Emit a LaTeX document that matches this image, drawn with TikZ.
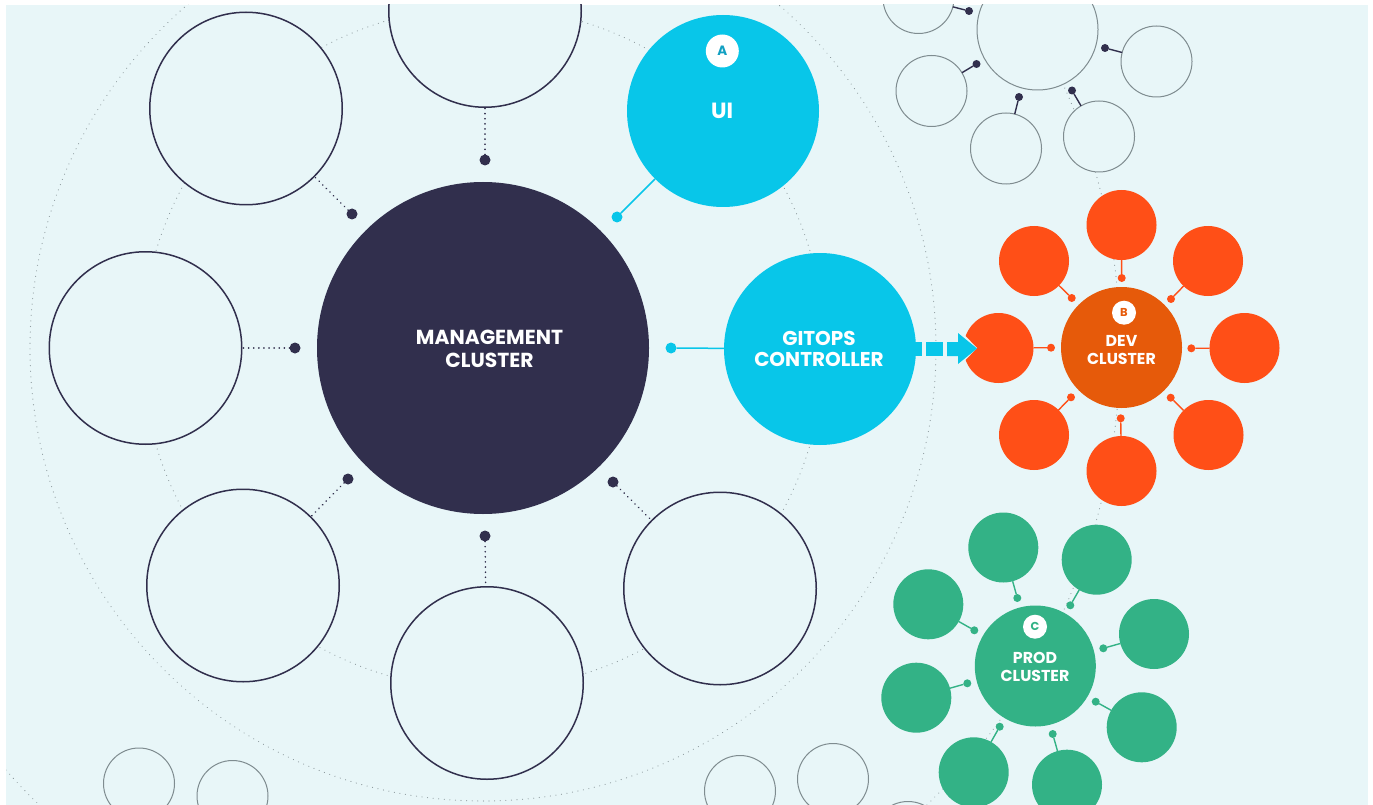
\documentclass[tikz,border=0pt]{standalone}
\usepackage{fontspec}
\setmainfont{Poppins}
\definecolor{bgc}{HTML}{E8F6F8}
\definecolor{navy}{HTML}{312F4D}
\definecolor{cyanc}{HTML}{08C6E9}
\definecolor{devc}{HTML}{E65A0A}
\definecolor{reds}{HTML}{FF4F17}
\definecolor{greenc}{HTML}{33B286}
\definecolor{grayl}{HTML}{7F8C90}
\definecolor{dotg}{HTML}{8F9CA0}
\tikzset{
  disc/.style={circle,inner sep=0pt,outer sep=0pt,align=center,text=white,font=\bfseries},
  bigring/.style={disc,draw=navy,fill=bgc,line width=1.5pt,minimum size=192.5pt},
  smallring/.style={disc,draw=grayl,fill=bgc,line width=1pt,minimum size=71pt},
  medring/.style={disc,draw=grayl,fill=bgc,line width=1pt,minimum size=121pt},
  cyandisc/.style={disc,fill=cyanc,minimum size=192pt},
  reddisc/.style={disc,fill=reds,minimum size=70pt},
  greendisc/.style={disc,fill=greenc,minimum size=70pt},
  bigdot/.style={disc,fill=navy,minimum size=11pt},
  cyandot/.style={disc,fill=cyanc,minimum size=11pt},
  navysmall/.style={disc,fill=navy,minimum size=8pt},
  reddot/.style={disc,fill=reds,minimum size=8pt},
  greendot/.style={disc,fill=greenc,minimum size=8pt},
  badge/.style={disc,fill=white,minimum size=24pt},
  orbit/.style={draw=dotg,line width=1.1pt,line cap=round,dash pattern=on 0.1pt off 5.5pt},
  dotlink/.style={draw=navy,line width=1.7pt,line cap=round,dash pattern=on 0.1pt off 5pt},
  navylink/.style={draw=navy,line width=1.4pt},
  cyanlink/.style={draw=cyanc,line width=1.5pt},
  redlink/.style={draw=reds,line width=1.4pt},
  greenlink/.style={draw=greenc,line width=1.4pt},
}
\begin{document}
\begin{tikzpicture}[x=1pt,y=-1pt]
\useasboundingbox (0,0) rectangle (1373,805);
\fill[white] (0,0) rectangle (1373,805);
\begin{scope}
\clip (6,5) rectangle (1368,805);
\fill[bgc] (6,5) rectangle (1368,805);
\coordinate (hub) at (483,348);
\draw[orbit] (hub) circle[radius=341];
\draw[orbit] (hub) circle[radius=453];
\draw[orbit] (hub) circle[radius=637];
% management ring
\node[bigring] (r1) at (485,11) {};
\node[bigring] (r2) at (246,108.5) {};
\node[bigring] (r3) at (145.5,348) {};
\node[bigring] (r4) at (243,585.5) {};
\node[bigring] (r5) at (487,683) {};
\node[bigring] (r6) at (720,588.5) {};
\node[disc,fill=navy,minimum size=332pt] (mgmt) at (483,348) {};
\node[disc,font=\bfseries\fontsize{20.3}{23}\selectfont] (mgmtlabel) at (489.5,348.5) {MANAGEMENT\\CLUSTER};
\node[cyandisc] (ui) at (723,111) {};
\node[disc,font=\bfseries\fontsize{22}{22}\selectfont] (uilabel) at (722,110.5) {UI};
\node[badge,minimum size=33pt,text=cyanc!75!navy,font=\bfseries\fontsize{13.5}{13.5}\selectfont] (ba) at (722.3,51) {A};
\node[cyandisc] (git) at (820,349) {};
\node[disc,font=\bfseries\fontsize{20}{21}\selectfont] (gitlabel) at (819,348.5) {GITOPS\\CONTROLLER};
\node[bigdot] (d1) at (485,160) {};
\node[bigdot] (d2) at (352,214) {};
\node[bigdot] (d3) at (295,348) {};
\node[bigdot] (d4) at (348,479) {};
\node[bigdot] (d5) at (485,536) {};
\node[bigdot] (d6) at (613,482) {};
\node[cyandot] (dui) at (617,217) {};
\node[cyandot] (dgit) at (671,348) {};
\draw[dotlink] (d1) -- (r1);
\draw[dotlink] (d2) -- (r2);
\draw[dotlink] (d3) -- (r3);
\draw[dotlink] (d4) -- (r4);
\draw[dotlink] (d5) -- (r5);
\draw[dotlink] (d6) -- (r6);
\draw[cyanlink] (dui) -- (ui);
\draw[cyanlink] (dgit) -- (git);
% upper right cluster
\node[medring] (m0) at (1037.5,29.5) {};
\node[smallring] (m1) at (918.5,-2) {};
\node[smallring] (m2) at (931.5,91) {};
\node[smallring] (m3) at (1006,148.5) {};
\node[smallring] (m4) at (1099,136.5) {};
\node[smallring] (m5) at (1156.5,61.5) {};
\node[navysmall] (n1) at (969,11) {};
\node[navysmall] (n2) at (976.5,64) {};
\node[navysmall] (n3) at (1019,97) {};
\node[navysmall] (n4) at (1072,90.5) {};
\node[navysmall] (n5) at (1105,48) {};
\draw[navylink] (n1) -- (m1);
\draw[navylink] (n2) -- (m2);
\draw[navylink] (n3) -- (m3);
\draw[navylink] (n4) -- (m4);
\draw[navylink] (n5) -- (m5);
% dev cluster
\node[disc,fill=devc,minimum size=121pt] (dev) at (1121.5,347.5) {};
\node[disc,font=\bfseries\fontsize{15.8}{18}\selectfont] (devlabel) at (1121.5,350) {DEV\\CLUSTER};
\node[badge,text=devc,font=\bfseries\fontsize{11.5}{11.5}\selectfont] (bb) at (1124,312.7) {B};
\node[reddisc] (s1) at (1121.5,225) {};
\node[reddisc] (s2) at (1208,261) {};
\node[reddisc] (s3) at (1244.5,348) {};
\node[reddisc] (s4) at (1208.5,435) {};
\node[reddisc] (s5) at (1121.5,471) {};
\node[reddisc] (s6) at (1034,435) {};
\node[reddisc] (s7) at (998.5,348) {};
\node[reddisc] (s8) at (1034,261) {};
\node[reddot] (t1) at (1121.7,278) {};
\node[reddot] (t2) at (1171,299) {};
\node[reddot] (t3) at (1191.3,348.3) {};
\node[reddot] (t4) at (1170.7,397.7) {};
\node[reddot] (t5) at (1120.7,418.3) {};
\node[reddot] (t6) at (1071,397.3) {};
\node[reddot] (t7) at (1051,347.7) {};
\node[reddot] (t8) at (1071.7,298) {};
\foreach \i in {1,...,8} {\draw[redlink] (t\i) -- (s\i);}
% arrow from the controller into the dev cluster
\fill[bgc] (977,348) -- (950,320) -- (950,376) -- cycle;
\fill[cyanc] (912,342) rectangle (922,356);
\fill[cyanc] (926,342) rectangle (943,356);
\fill[cyanc] (947,342) -- (958,342) -- (958,333) -- (977,348.5) -- (958,364) -- (958,356) -- (947,356) -- cycle;
% prod cluster
\node[disc,fill=greenc,minimum size=121pt] (prod) at (1035.3,666) {};
\node[disc,font=\bfseries\fontsize{15.8}{18}\selectfont] (prodlabel) at (1035,667) {PROD\\CLUSTER};
\node[badge,text=greenc,font=\bfseries\fontsize{11.5}{11.5}\selectfont] (bc) at (1035,626.7) {C};
\node[greendisc] (g1) at (1003.3,547.5) {};
\node[greendisc] (g2) at (1096.7,559.7) {};
\node[greendisc] (g3) at (1154,634) {};
\node[greendisc] (g4) at (1141.7,727.3) {};
\node[greendisc] (g5) at (1067,784.7) {};
\node[greendisc] (g6) at (973.7,772.3) {};
\node[greendisc] (g7) at (916.3,697.7) {};
\node[greendisc] (g8) at (928.3,604.3) {};
\node[greendot] (h1) at (1017.3,598) {};
\node[greendot] (h2) at (1070.3,605.3) {};
\node[greendot] (h3) at (1103.3,648.3) {};
\node[greendot] (h4) at (1095.7,701.7) {};
\node[greendot] (h5) at (1052.7,734) {};
\node[greendot] (h6) at (999.7,726.7) {};
\node[greendot] (h7) at (967.3,683.3) {};
\node[greendot] (h8) at (974.3,630.3) {};
\foreach \i in {1,...,8} {\draw[greenlink] (h\i) -- (g\i);}
% bottom small rings
\node[smallring] (b1) at (139,783.5) {};
\node[smallring] (b2) at (232.5,796) {};
\node[smallring] (b3) at (740,791) {};
\node[smallring] (b4) at (833,779) {};
\node[smallring] (b5) at (908,837) {};
\end{scope}
\end{tikzpicture}
\end{document}
